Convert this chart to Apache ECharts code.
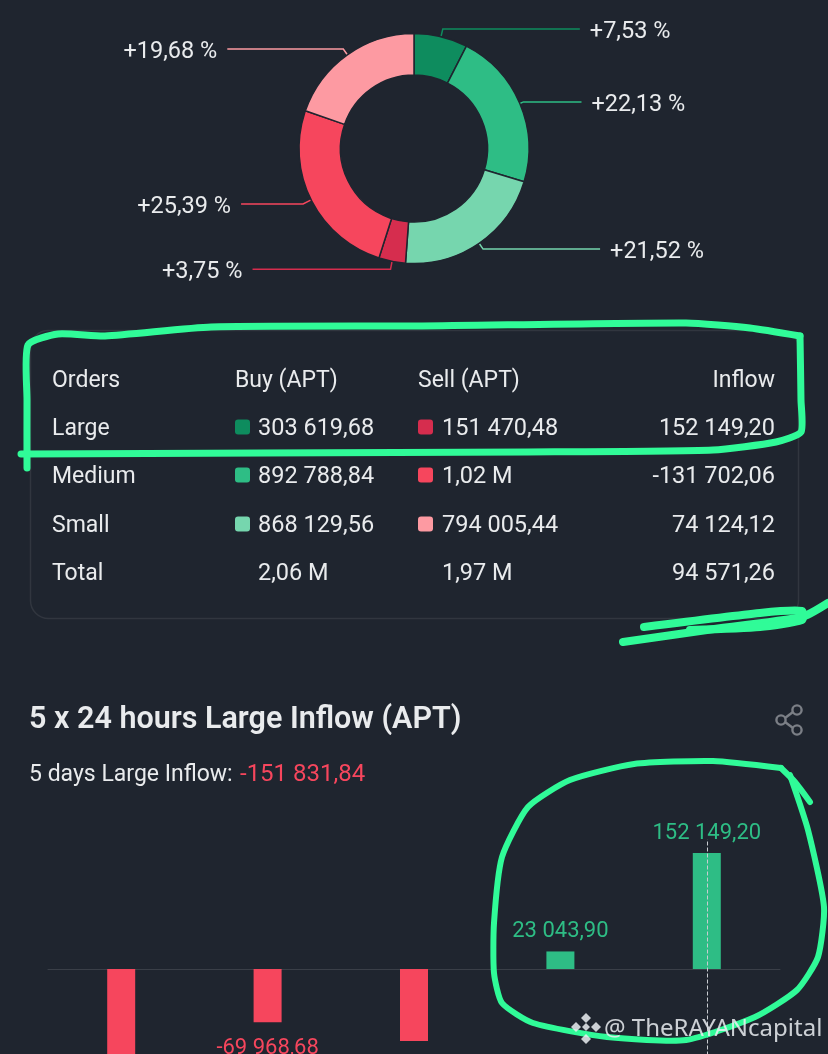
<!DOCTYPE html>
<html><head><meta charset="utf-8">
<style>html,body{margin:0;padding:0;background:#1f252f}#c{width:828px;height:1054px}</style>
<script src="https://cdn.jsdelivr.net/npm/echarts@6/dist/echarts.min.js"></script>
</head><body><div id="c"></div>
<script>
// ---- data ----
const sliceValues = [7.53, 22.13, 21.52, 3.75, 25.39, 19.68];
const sliceColors = ['#0e8c5e', '#2ebd85', '#76d6ae', '#d62d4e', '#f6465d', '#fd9aa2'];
const tableHeaders = ['Orders', 'Buy (APT)', 'Sell (APT)', 'Inflow'];
const rowNames = ['Large', 'Medium', 'Small', 'Total'];
const buyTexts = ['303 619,68', '892 788,84', '868 129,56', '2,06 M'];
const sellTexts = ['151 470,48', '1,02 M', '794 005,44', '1,97 M'];
const inflowTexts = ['152 149,20', '-131 702,06', '74 124,12', '94 571,26'];
const days = ['Day 1', 'Day 2', 'Day 3', 'Day 4', 'Day 5'];
const inflowValues = [-162556.26, -69968.68, -94500, 23043.90, 152149.20];
const chartTitle = '5 x 24 hours Large Inflow (APT)';
const summaryLabel = '5 days Large Inflow:';
const summaryValue = '-151 831,84';
const watermark = '@ TheRAYANcapital';

// ---- layout / style ----
const FONT = 'Roboto, "Noto Sans", sans-serif';
const BG = '#1f252f', TXT = '#e9ebed', GREEN = '#2ebd85', RED = '#f6465d', MARK = '#30fb98';
const lineLen = [[8,137],[4,58],[7,117],[8,138],[9,62],[7,116]];
const rowY = [427, 475, 524, 572];
const fmt = v => Math.abs(v).toFixed(2).replace('.', ',').replace(/\B(?=(\d{3})+(?!\d))/g, ' ');

const T = (x, y, text, o = {}) => ({ type: 'text', z: 5, x, y, style: Object.assign({
  text, fill: TXT, font: `400 ${o.size || 23.5}px ${FONT}`, textAlign: o.align || 'left', textVerticalAlign: 'middle' }, o.style || {}) });
const stroke = (pts, w) => ({ type: 'polyline', z: 20, shape: { points: pts, smooth: 0.2 },
  style: { stroke: MARK, lineWidth: w, fill: null, lineCap: 'round', lineJoin: 'round' } });
const swatch = (x, y, c) => ({ type: 'rect', z: 5, shape: { x, y: y - 7.5, width: 15, height: 15, r: 3 }, style: { fill: c } });

const g = [];
// table frame
g.push({ type: 'rect', z: 2, shape: { x: 30.5, y: 330.5, width: 768, height: 288, r: 18 },
  style: { fill: 'none', stroke: '#31363f', lineWidth: 1.5 } });
[52, 235, 418].forEach((x, i) => g.push(T(x, 381, tableHeaders[i], { size: 23 })));
g.push(T(775, 381, tableHeaders[3], { align: 'right', size: 23 }));
rowNames.forEach((n, i) => {
  g.push(T(52, rowY[i] + 2, n, { size: 23 }));
  if (i < 3) {
    g.push(swatch(235, rowY[i], sliceColors[i]));
    g.push(swatch(418, rowY[i], sliceColors[3 + i]));
  }
  g.push(T(258, rowY[i] + 2, buyTexts[i]));
  g.push(T(442, rowY[i] + 2, sellTexts[i]));
  g.push(T(775, rowY[i] + 2, inflowTexts[i], { align: 'right' }));
});
// section heading
g.push(T(29, 720, chartTitle, { style: { font: `600 30.5px ${FONT}` } }));
g.push(T(29, 775, summaryLabel, { size: 23 }));
g.push(T(240, 775, summaryValue, { size: 24, style: { fill: RED } }));
// share icon
const ic = '#7b7f86';
[[797, 710], [781, 720], [797, 730]].forEach(p => g.push({ type: 'circle', z: 5,
  shape: { cx: p[0], cy: p[1], r: 4.6 }, style: { fill: 'none', stroke: ic, lineWidth: 2.4 } }));
[[785, 718, 793, 712], [785, 722, 793, 728]].forEach(l => g.push({ type: 'line', z: 5,
  shape: { x1: l[0], y1: l[1], x2: l[2], y2: l[3] }, style: { stroke: ic, lineWidth: 2.4 } }));
// hand-drawn annotations
g.push(stroke([[27,468],[27,400],[28,345],[58,334],[105,336],[211,327],[422,326],[686,323],[750,328],[800,336]], 7));
g.push(stroke([[800,336],[801,400],[801,432],[776,442],[713,450],[528,452],[264,453],[21,454]], 7));
g.push(stroke([[623,642],[707,630],[802,617],[828,603]], 8));
g.push(stroke([[644,627],[760,613],[802,611],[802,620],[760,627],[690,630]], 8));
g.push(stroke([[781,768],[713,761],[634,764],[570,780],[528,807],[502,857],[494,923],[494,973],[502,1003],[533,1023],[607,1037],[686,1040],[755,1017],[797,990],[818,957],[824,907],[808,830],[790,775]], 6));
g.push(stroke([[781,768],[795,782],[810,802]], 6));
// watermark
const wm = 'rgba(235,238,242,0.85)';
[[586,1018],[576,1027],[596,1027],[586,1039]].forEach(p => g.push({ type: 'polygon', z: 25,
  shape: { points: [[p[0],p[1]-5],[p[0]+5,p[1]],[p[0],p[1]+5],[p[0]-5,p[1]]] },
  style: { fill: wm } }));
g.push({ type: 'polygon', z: 25, shape: { points: [[586,1023],[590,1027],[586,1031],[582,1027]] }, style: { fill: wm } });
const wt = T(604, 1029, watermark, { style: { fill: wm, font: `400 24px "Noto Sans", sans-serif` } });
wt.z = 25;
g.push(wt);

const chart = echarts.init(document.getElementById('c'), null, { renderer: 'canvas' });
chart.setOption({
  animation: false,
  backgroundColor: BG,
  textStyle: { fontFamily: FONT },
  grid: { left: 48, width: 732, top: 839.4, height: 282.1, outerBoundsMode: 'none', containLabel: false },
  xAxis: { type: 'category', data: days, axisLine: { onZero: true, lineStyle: { color: '#3a3f48', width: 1 } },
    axisTick: { show: false }, axisLabel: { show: false }, splitLine: { show: false } },
  yAxis: { type: 'value', min: -200000, max: 170000, show: false, splitLine: { show: false } },
  series: [
    { type: 'pie', center: [414, 148.5], radius: [73.5, 115], startAngle: 90, clockwise: true, avoidLabelOverlap: false,
      itemStyle: { borderColor: BG, borderWidth: 1.5 },
      data: sliceValues.map((v, i) => ({ value: v, itemStyle: { color: sliceColors[i] },
        labelLine: { length: lineLen[i][0], length2: lineLen[i][1], smooth: false, lineStyle: { color: sliceColors[i], width: 1.5 } } })),
      label: { position: 'outside', color: TXT, fontSize: 23.5, fontFamily: FONT, padding: [0, 5],
        rich: { v: { color: TXT, fontSize: 23.5, fontFamily: FONT, lineHeight: 28, padding: [6, 0, 0, 0] } },
        formatter: p => '{v|+' + p.value.toFixed(2).replace('.', ',') + ' %}' },
      silent: true },
    { type: 'bar', barWidth: 28,
      data: inflowValues.map(v => ({ value: v, itemStyle: { color: v >= 0 ? GREEN : RED },
        label: { show: true, position: v >= 0 ? 'top' : 'bottom', distance: v >= 0 ? 9 : 15, color: v >= 0 ? GREEN : RED,
          fontSize: 22, fontFamily: FONT, formatter: p => (p.value < 0 ? '-' : '') + fmt(p.value) } })),
      markLine: { silent: true, symbol: 'none', label: { show: false },
        lineStyle: { color: '#c9ccd1', type: 'dashed', width: 1 }, data: [{ xAxis: days[4] }] } }
  ],
  graphic: { elements: g }
});
</script></body></html>
